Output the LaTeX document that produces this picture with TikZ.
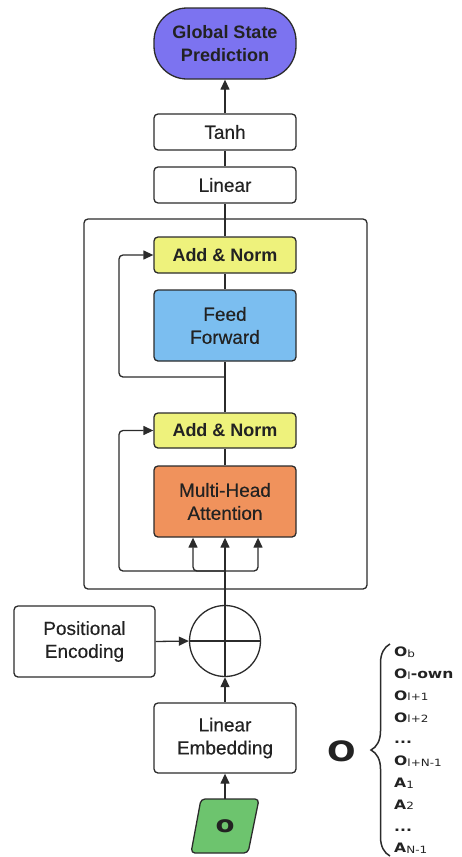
\documentclass[tikz,border=0pt]{standalone}
\usepackage{fontspec}
\setmainfont{Liberation Sans}[UprightFeatures={FakeBold=0.4}]
\newfontfamily\listfont{DejaVu Sans}[FakeStretch=1.2]
\usetikzlibrary{arrows.meta,decorations.pathreplacing}
\definecolor{linec}{HTML}{2B2B2B}
\definecolor{textc}{HTML}{222222}
\definecolor{purplef}{HTML}{7C73F0}
\definecolor{yellowf}{HTML}{EEF27C}
\definecolor{bluef}{HTML}{7BBEF0}
\definecolor{orangef}{HTML}{F0925C}
\definecolor{greenf}{HTML}{6DC46E}
\newcommand\lsub[1]{\raisebox{-0.6pt}{\mdseries\fontsize{10}{10}\selectfont #1}}
\tikzset{
  base/.style={draw=linec, line width=1.3pt, text=textc, align=center, inner sep=0pt},
  box/.style={base, rounded corners=4pt, minimum width=142pt,
    font=\fontsize{19}{23}\selectfont},
  boldbox/.style={box, font=\fontsize{18}{23}\selectfont\bfseries},
  conn/.style={draw=linec, line width=1.3pt},
  arr/.style={conn, -{Triangle[length=10pt,width=9pt]}},
  item/.style={anchor=base west, inner sep=0pt, text=textc,
    font=\listfont\bfseries\fontsize{13}{15}\selectfont},
}
\begin{document}
\begin{tikzpicture}[x=1pt,y=-1pt]
\useasboundingbox (0,0) rectangle (461,857);

% output head
\node[boldbox, fill=purplef, rounded corners=33pt, minimum height=71pt] (gsp) at (225,43.5) {Global State\\Prediction};
\node[box, minimum height=36pt] (tanh) at (225,132) {Tanh};
\node[box, minimum height=36pt] (lin) at (225,185) {Linear};

% encoder block frame
\node[base, rounded corners=4pt, minimum width=283pt, minimum height=370pt] (enc) at (225.5,404) {};

\node[boldbox, fill=yellowf, minimum height=36pt] (an1) at (225,255) {Add \& Norm};
\node[box, fill=bluef, minimum height=71pt] (ff) at (225,325.5) {Feed\\Forward};
\node[boldbox, fill=yellowf, minimum height=35pt] (an2) at (225,430.5) {Add \& Norm};
\node[box, fill=orangef, minimum height=71pt] (mha) at (225,501.5) {Multi-Head\\Attention};

% input side
\node[base, circle, minimum size=71pt] (plus) at (225,641) {};
\draw[conn] (plus.west) -- (plus.east) (plus.north) -- (plus.south);
\node[box, minimum width=141pt, minimum height=71pt] (pe) at (84.5,641.5) {Positional\\Encoding};
\node[box, minimum height=70pt] (le) at (225,738) {Linear\\Embedding};

% input parallelogram
\draw[conn, fill=greenf, rounded corners=4pt] (201,799) -- (259,799) -- (248,853) -- (191,853) -- cycle;
\node[inner sep=0pt, minimum height=54pt, text=textc, font=\listfont\bfseries\fontsize{23}{23}\selectfont] (obs) at (225,826) {o};

% connectors
\draw[arr] (tanh.north) -- (gsp.south);
\draw[conn] (lin.north) -- (tanh.south);
\draw[conn] (an1.north) -- (lin.south);
\draw[conn] (ff.north) -- (an1.south);
\draw[conn] (an2.north) -- (ff.south);
\draw[conn] (mha.north) -- (an2.south);

\coordinate (res1) at (225,377);
\draw[arr, rounded corners=4pt] (res1) -- (119,377) |- (an1.west);

\coordinate (fork) at (225,571);
\draw[arr] (plus.north) -- (mha.south);
\draw[arr, rounded corners=4pt] (fork) -| ([xshift=-32pt]mha.south);
\draw[arr, rounded corners=4pt] (fork) -| ([xshift=33pt]mha.south);
\draw[arr, rounded corners=4pt] (fork) -- (119,571) |- (an2.west);

\draw[arr] (pe.east) -- (plus.west);
\draw[arr] (le.north) -- (plus.south);
\draw[arr] (obs.north) -- (le.south);

% observation vector legend
\node[inner sep=0pt, text=textc, font=\listfont\bfseries\fontsize{28}{28}\selectfont] (bigo) at (341.5,751.5) {O};
\coordinate (brtop) at (390,644);
\coordinate (brbot) at (390,856);
\draw[conn, line width=1.5pt, decorate, decoration={brace, amplitude=19pt}] (brbot) -- (brtop);

\node[item] (item1)  at (394,656.6) {O\lsub{b}};
\node[item] (item2)  at (394,678.4) {O\lsub{l}-own};
\node[item] (item3)  at (394,700.2) {O\lsub{l+1}};
\node[item] (item4)  at (394,722.0) {O\lsub{l+2}};
\node[item] (item5)  at (394,743.8) {...};
\node[item] (item6)  at (394,765.6) {O\lsub{l+N-1}};
\node[item] (item7)  at (394,787.4) {A\lsub{1}};
\node[item] (item8)  at (394,809.2) {A\lsub{2}};
\node[item] (item9)  at (394,831.0) {...};
\node[item] (item10) at (394,852.8) {A\lsub{N-1}};
\end{tikzpicture}
\end{document}
